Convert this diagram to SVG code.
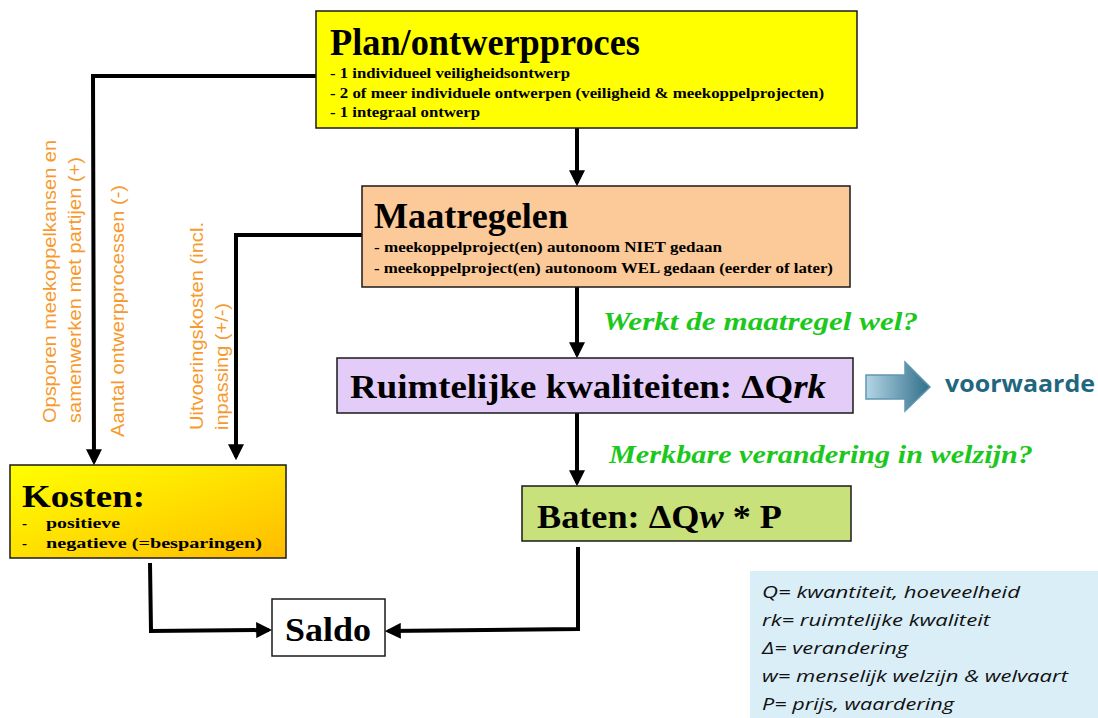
<svg xmlns="http://www.w3.org/2000/svg" width="1098" height="718" viewBox="0 0 1098 718">
<style>
.box{stroke:#1a1a1a;stroke-width:1.5}
.t{font-family:"Liberation Serif",serif;font-weight:bold;fill:#000}
.conn{fill:none;stroke:#000;stroke-width:4}
.or{font-family:"Liberation Sans",Arial,sans-serif;font-size:19px;fill:#F79A2E}
.gr{font-family:"Liberation Serif",serif;font-weight:bold;font-style:italic;font-size:25px;fill:#1CC81C}
.lg{font-family:"Open Sans","Noto Sans",sans-serif;font-style:italic;font-size:17px;fill:#111}
</style>
<defs>
<marker id="ah" markerWidth="4" markerHeight="4" refX="3.2" refY="2" orient="auto" markerUnits="strokeWidth">
<path d="M0,0 L4,2 L0,4 Z" fill="#000"/>
</marker>
<linearGradient id="kg" x1="0" y1="0" x2="1" y2="1">
<stop offset="0" stop-color="#FFFF00"/>
<stop offset="0.35" stop-color="#FFEA00"/>
<stop offset="1" stop-color="#FFBB00"/>
</linearGradient>
<linearGradient id="bg" x1="0" y1="0" x2="1" y2="0">
<stop offset="0" stop-color="#B4D5E6"/>
<stop offset="1" stop-color="#2F6E88"/>
</linearGradient>
</defs>

<g id="connectors">
<polyline class="conn" points="316,76 93,76 94,462" marker-end="url(#ah)"/>
<polyline class="conn" points="362,235 236,235 236,457" marker-end="url(#ah)"/>
<line class="conn" x1="577" y1="128" x2="577" y2="183" marker-end="url(#ah)"/>
<line class="conn" x1="577" y1="287" x2="577" y2="355" marker-end="url(#ah)"/>
<line class="conn" x1="577" y1="413" x2="577" y2="483" marker-end="url(#ah)"/>
<polyline class="conn" points="150,563 151,631 269,630" marker-end="url(#ah)"/>
<polyline class="conn" points="578,547 578,629 388,631" marker-end="url(#ah)"/>
</g>

<g id="plan">
<rect class="box" x="316" y="11" width="541" height="117" fill="#FFFF00"/>
<text class="t" x="330" y="55" font-size="38" textLength="310" lengthAdjust="spacingAndGlyphs">Plan/ontwerpproces</text>
<text class="t" x="330" y="78" font-size="14" textLength="240" lengthAdjust="spacingAndGlyphs">- 1 individueel  veiligheidsontwerp</text>
<text class="t" x="330" y="98" font-size="14" textLength="494" lengthAdjust="spacingAndGlyphs">- 2 of meer individuele  ontwerpen (veiligheid &amp; meekoppelprojecten)</text>
<text class="t" x="330" y="117" font-size="14" textLength="150" lengthAdjust="spacingAndGlyphs">- 1 integraal ontwerp</text>
</g>

<g id="maatregelen">
<rect class="box" x="362" y="186" width="488" height="101" fill="#FCC998"/>
<text class="t" x="374" y="228" font-size="36" textLength="194" lengthAdjust="spacingAndGlyphs">Maatregelen</text>
<text class="t" x="374" y="252" font-size="14" textLength="348" lengthAdjust="spacingAndGlyphs">- meekoppelproject(en) autonoom  NIET gedaan</text>
<text class="t" x="374" y="273" font-size="14" textLength="459" lengthAdjust="spacingAndGlyphs">- meekoppelproject(en) autonoom WEL gedaan (eerder of later)</text>
</g>

<g id="ruimtelijk">
<rect class="box" x="337" y="358" width="516" height="55" fill="#E3CCF7"/>
<text class="t" x="350" y="398" font-size="33" textLength="476" lengthAdjust="spacingAndGlyphs">Ruimtelijke  kwaliteiten: ΔQ<tspan font-style="italic">rk</tspan></text>
</g>

<g id="baten">
<rect class="box" x="522" y="486" width="329" height="55" fill="#C9E17A"/>
<text class="t" x="537" y="528" font-size="33" textLength="245" lengthAdjust="spacingAndGlyphs">Baten: ΔQ<tspan font-style="italic">w</tspan> * P</text>
</g>

<g id="kosten">
<rect class="box" x="10" y="465" width="276" height="93" fill="url(#kg)"/>
<text class="t" x="22" y="507" font-size="32" textLength="123" lengthAdjust="spacingAndGlyphs">Kosten:</text>
<text class="t" x="22" y="528" font-size="15">-</text>
<text class="t" x="46" y="528" font-size="15" textLength="74" lengthAdjust="spacingAndGlyphs">positieve</text>
<text class="t" x="22" y="548" font-size="15">-</text>
<text class="t" x="46" y="548" font-size="15" textLength="216" lengthAdjust="spacingAndGlyphs">negatieve (=besparingen)</text>
</g>

<g id="saldo">
<rect class="box" x="272" y="599" width="113" height="57" fill="#FFFFFF"/>
<text class="t" x="285" y="641" font-size="33" textLength="86" lengthAdjust="spacingAndGlyphs">Saldo</text>
</g>

<g id="labels-left">
<text class="or" transform="translate(56,423) rotate(-90)" textLength="283" lengthAdjust="spacingAndGlyphs">Opsporen meekoppelkansen en</text>
<text class="or" transform="translate(81,423) rotate(-90)" textLength="266" lengthAdjust="spacingAndGlyphs">samenwerken met partijen (+)</text>
<text class="or" transform="translate(124,437) rotate(-90)" textLength="252" lengthAdjust="spacingAndGlyphs">Aantal ontwerpprocessen (-)</text>
<text class="or" transform="translate(203,430) rotate(-90)" textLength="208" lengthAdjust="spacingAndGlyphs">Uitvoeringskosten (incl.</text>
<text class="or" transform="translate(228,430) rotate(-90)" textLength="127" lengthAdjust="spacingAndGlyphs">inpassing (+/-)</text>
</g>

<g id="questions">
<text class="gr" x="603" y="330" textLength="315" lengthAdjust="spacingAndGlyphs">Werkt de maatregel wel?</text>
<text class="gr" x="609" y="463" textLength="424" lengthAdjust="spacingAndGlyphs">Merkbare verandering in welzijn?</text>
</g>

<g id="voorwaarde">
<path d="M866,375 L905,375 L905,362 L930,387 L905,411 L905,399 L866,399 Z" fill="url(#bg)" stroke="#5F97B2" stroke-width="1.5"/>
<text x="945" y="392" font-family="'Open Sans','Noto Sans',sans-serif" font-weight="bold" font-size="24" fill="#1F6680" textLength="150" lengthAdjust="spacingAndGlyphs">voorwaarde</text>
</g>

<g id="legend">
<rect x="750" y="571" width="348" height="147" fill="#DAEEF8"/>
<text class="lg" x="762" y="598" textLength="258" lengthAdjust="spacingAndGlyphs">Q= kwantiteit, hoeveelheid</text>
<text class="lg" x="762" y="626" textLength="228" lengthAdjust="spacingAndGlyphs">rk= ruimtelijke kwaliteit</text>
<text class="lg" x="762" y="654" textLength="146" lengthAdjust="spacingAndGlyphs">Δ= verandering</text>
<text class="lg" x="762" y="682" textLength="306" lengthAdjust="spacingAndGlyphs">w= menselijk welzijn &amp; welvaart</text>
<text class="lg" x="762" y="710" textLength="192" lengthAdjust="spacingAndGlyphs">P= prijs, waardering</text>
</g>
</svg>
